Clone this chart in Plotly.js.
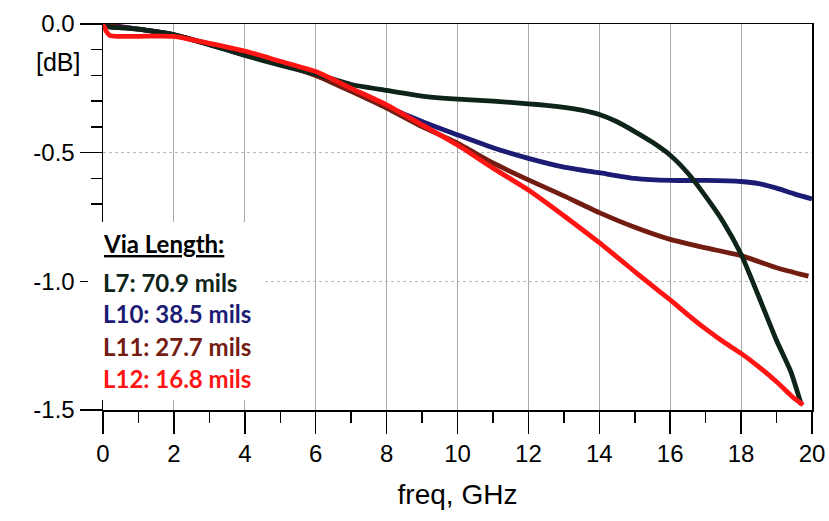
<!DOCTYPE html>
<html>
<head>
<meta charset="utf-8">
<script src="https://cdn.plot.ly/plotly-3.0.1.min.js"></script>
<style>html,body{margin:0;padding:0;background:#fff;}#chart{width:829px;height:521px;}</style>
</head>
<body>
<div id="chart"></div>
<script>
// ---- data ----
const freqL7  = [0, 0.2, 0.5, 1, 1.5, 2, 3, 4, 5, 6, 7, 8, 9, 10, 11, 12, 12.5, 13, 13.5, 14, 14.5, 15, 15.5, 16, 16.5, 17, 17.5, 18, 18.5, 19, 19.4, 19.7];
const dbL7    = [0, -0.012, -0.015, -0.02, -0.03, -0.042, -0.08, -0.122, -0.16, -0.195, -0.235, -0.258, -0.28, -0.292, -0.3, -0.31, -0.316, -0.324, -0.335, -0.352, -0.38, -0.418, -0.46, -0.51, -0.58, -0.67, -0.77, -0.895, -1.06, -1.23, -1.35, -1.48];

const freqL10 = [0, 0.2, 0.5, 1, 1.5, 2, 3, 4, 5, 6, 7, 8, 9, 10, 11, 12, 13, 14, 15, 16, 17, 18, 18.5, 19, 19.5, 20];
const dbL10   = [0, -0.005, -0.01, -0.02, -0.03, -0.042, -0.08, -0.12, -0.155, -0.195, -0.255, -0.32, -0.379, -0.431, -0.481, -0.522, -0.556, -0.578, -0.6, -0.608, -0.608, -0.612, -0.62, -0.638, -0.66, -0.68];

const freqL11 = [0, 0.2, 0.5, 1, 1.5, 2, 3, 4, 5, 6, 7, 8, 9, 10, 11, 12, 13, 14, 15, 16, 17, 18, 19, 19.9];
const dbL11   = [0, -0.008, -0.012, -0.02, -0.03, -0.042, -0.078, -0.118, -0.155, -0.2, -0.262, -0.327, -0.399, -0.463, -0.54, -0.606, -0.668, -0.733, -0.79, -0.837, -0.87, -0.9, -0.947, -0.98];

const freqL12 = [0, 0.1, 0.2, 0.4, 1, 1.5, 2, 3, 4, 5, 6, 7, 8, 9, 10, 11, 12, 13, 14, 15, 15.5, 16, 16.5, 17, 17.5, 18, 18.5, 19, 19.5, 19.75];
const dbL12   = [0, -0.03, -0.045, -0.048, -0.048, -0.047, -0.048, -0.075, -0.105, -0.145, -0.185, -0.25, -0.314, -0.392, -0.47, -0.56, -0.645, -0.745, -0.85, -0.962, -1.018, -1.072, -1.13, -1.185, -1.235, -1.28, -1.332, -1.39, -1.455, -1.48];

const legendTitle = 'Via Length:';
const seriesNames = ['L7: 70.9 mils', 'L10: 38.5 mils', 'L11: 27.7 mils', 'L12: 16.8 mils'];
const xTickVals = [0, 2, 4, 6, 8, 10, 12, 14, 16, 18, 20];
const yTickVals = [0, -0.5, -1.0, -1.5];
const yTickText = ['0.0', '-0.5', '-1.0', '-1.5'];

// ---- styles ----
const colL7 = '#0e2418', colL10 = '#1c1c74', colL11 = '#731c12', colL12 = '#ff1414';
const lw = 4.8;
const ln = (c) => ({color: c, width: lw, shape: 'spline', smoothing: 0.5});

const traces = [
  {x: freqL10, y: dbL10, mode: 'lines', line: ln(colL10), name: seriesNames[1]},
  {x: freqL11, y: dbL11, mode: 'lines', line: ln(colL11), name: seriesNames[2]},
  {x: freqL7,  y: dbL7,  mode: 'lines', line: ln(colL7),  name: seriesNames[0]},
  {x: freqL12, y: dbL12, mode: 'lines', line: ln(colL12), name: seriesNames[3]}
];

const arial = 'Arial, "Liberation Sans", sans-serif';
const tickFont = {family: arial, size: 24, color: '#000'};
const legFont = (c) => ({family: 'Lato, "Noto Sans", sans-serif', size: 24, color: c});

const W = 709, H = 386; // plot area in px
const px2x = (p) => (p - 103) / W;
const px2y = (p) => (410 - p) / H;

const layout = {
  width: 829, height: 521,
  margin: {l: 103, r: 17, t: 24, b: 111, pad: 0},
  paper_bgcolor: '#fff', plot_bgcolor: '#fff',
  showlegend: false,
  xaxis: {
    range: [0, 20], tickvals: xTickVals, tickfont: tickFont,
    showgrid: true, gridcolor: '#a8a8a8', gridwidth: 1,
    zeroline: false, showline: true, linecolor: '#000', linewidth: 1.5, mirror: true,
    ticks: 'outside', ticklen: 22, tickwidth: 1.5, tickcolor: '#000',
    minor: {dtick: 1, ticks: 'outside', ticklen: 11, tickwidth: 1.5, tickcolor: '#000', showgrid: false},
    title: {text: 'freq, GHz', font: {family: arial, size: 28, color: '#000'}, standoff: 18}
  },
  yaxis: {
    range: [-1.5, 0], tickvals: yTickVals, ticktext: yTickText, tickfont: tickFont,
    showgrid: true, gridcolor: '#b8b8b8', gridwidth: 1, griddash: 'dot',
    zeroline: false, showline: true, linecolor: '#000', linewidth: 1.5, mirror: true,
    ticks: 'outside', ticklen: 22, tickwidth: 1.5, tickcolor: '#000',
    minor: {dtick: 0.1, ticks: 'outside', ticklen: 11, tickwidth: 1.5, tickcolor: '#000', showgrid: false}
  },
  shapes: [
    {type: 'rect', xref: 'paper', yref: 'paper', layer: 'above',
     x0: px2x(88), x1: px2x(262), y0: px2y(400), y1: px2y(222),
     fillcolor: '#fff', line: {width: 0}}
  ],
  annotations: [
    {text: '[dB]', xref: 'paper', yref: 'paper', x: px2x(58), y: px2y(62), xanchor: 'center', yanchor: 'middle', showarrow: false,
     font: {family: arial, size: 25, color: '#000'}},
    {text: '<b><u>' + legendTitle + '</u></b>', xref: 'paper', yref: 'paper', x: px2x(101), y: px2y(243), xanchor: 'left', yanchor: 'middle', showarrow: false, font: legFont('#000')},
    {text: '<b>' + seriesNames[0] + '</b>', xref: 'paper', yref: 'paper', x: px2x(101), y: px2y(282), xanchor: 'left', yanchor: 'middle', showarrow: false, font: legFont(colL7)},
    {text: '<b>' + seriesNames[1] + '</b>', xref: 'paper', yref: 'paper', x: px2x(101), y: px2y(313), xanchor: 'left', yanchor: 'middle', showarrow: false, font: legFont(colL10)},
    {text: '<b>' + seriesNames[2] + '</b>', xref: 'paper', yref: 'paper', x: px2x(101), y: px2y(346), xanchor: 'left', yanchor: 'middle', showarrow: false, font: legFont(colL11)},
    {text: '<b>' + seriesNames[3] + '</b>', xref: 'paper', yref: 'paper', x: px2x(101), y: px2y(378), xanchor: 'left', yanchor: 'middle', showarrow: false, font: legFont(colL12)}
  ]
};

Plotly.newPlot('chart', traces, layout, {staticPlot: true, displayModeBar: false});
</script>
</body>
</html>
